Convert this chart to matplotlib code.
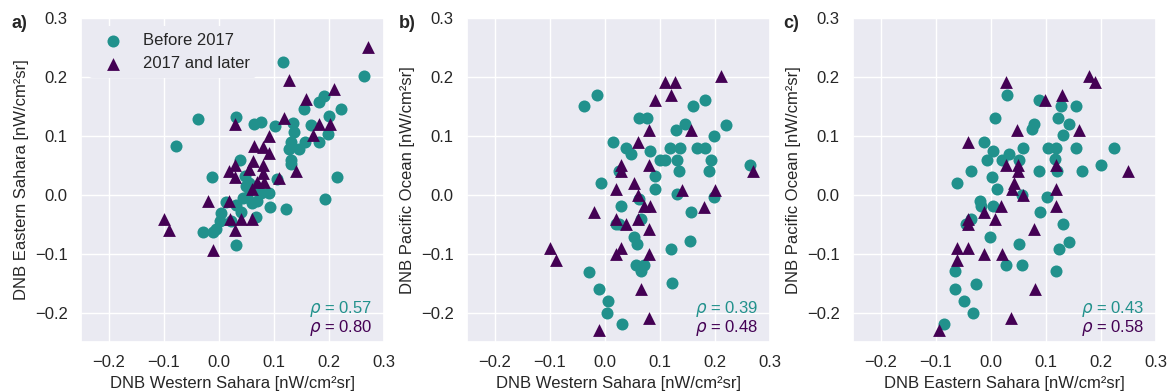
import numpy as np
import matplotlib
matplotlib.use("Agg")
import matplotlib.pyplot as plt
import seaborn as sns

# panel a: Western Sahara (x) vs Eastern Sahara (y)
a_before_x = [0.117, 0.264, -0.038, -0.077, 0.031, 0.064, 0.076, 0.102, 0.135, 0.136, 0.155, 0.182, 0.191,
              0.222, 0.200, 0.168, 0.198, 0.182, 0.157, 0.145, 0.132, 0.128, 0.132, 0.132, 0.214, 0.193,
              0.122, 0.094, 0.039, -0.013, 0.048, 0.070, 0.076, 0.091, 0.052, 0.061, 0.070, 0.014, 0.031,
              0.005, 0.003, -0.029, -0.011, -0.005, 0.032, 0.067, 0.040, 0.055, 0.106, 0.022, 0.045, 0.050]
a_before_y = [0.226, 0.201, 0.129, 0.082, 0.132, 0.120, 0.123, 0.117, 0.122, 0.106, 0.145, 0.157, 0.167,
              0.146, 0.133, 0.119, 0.103, 0.089, 0.089, 0.078, 0.089, 0.078, 0.059, 0.052, 0.030, -0.007,
              -0.025, -0.021, 0.059, 0.030, 0.031, 0.013, 0.003, 0.003, -0.004, -0.014, -0.011, -0.012, -0.017,
              -0.031, -0.044, -0.063, -0.063, -0.059, -0.085, -0.037, -0.030, 0.020, 0.027, -0.045, -0.005, 0.015]
a_after_x = [0.271, 0.127, 0.159, 0.210, 0.119, 0.030, 0.182, 0.202, 0.171, 0.091, 0.064, 0.081, 0.091,
             0.062, 0.030, 0.018, 0.030, 0.055, 0.081, 0.081, 0.070, 0.082, 0.061, 0.109, 0.141, -0.019,
             0.018, -0.100, -0.091, 0.020, 0.041, 0.061, 0.030, -0.010]
a_after_y = [0.250, 0.194, 0.163, 0.180, 0.131, 0.120, 0.120, 0.120, 0.101, 0.099, 0.082, 0.081, 0.071,
             0.058, 0.050, 0.040, 0.030, 0.044, 0.050, 0.037, 0.021, 0.021, 0.010, 0.028, 0.040, -0.011,
             -0.011, -0.041, -0.060, -0.041, -0.041, -0.041, -0.060, -0.094]

# panel b: Western Sahara (x) vs Pacific Ocean (y)
b_before_x = [-0.038, -0.014, 0.015, 0.039, 0.047, 0.062, 0.076, 0.082, 0.092, 0.092, 0.100, 0.110, 0.118,
              0.136, 0.131, 0.134, 0.129, 0.146, 0.160, 0.182, 0.221, 0.199, 0.167, 0.182, 0.193, 0.190,
              0.263, 0.131, 0.198, 0.156, 0.154, 0.120, 0.122, -0.006, 0.030, 0.025, 0.025, 0.062, 0.066,
              0.053, 0.059, 0.056, 0.071, 0.065, -0.028, -0.011, 0.005, 0.004, 0.031, 0.020]
b_before_y = [0.151, 0.169, 0.090, 0.080, 0.069, 0.130, 0.130, 0.074, 0.031, 0.010, 0.059, 0.059, 0.080,
              0.080, 0.059, 0.040, 0.110, 0.120, 0.150, 0.160, 0.119, 0.099, 0.080, 0.080, 0.059, 0.040,
              0.051, 0.001, -0.004, -0.030, -0.079, -0.093, -0.150, 0.020, -0.020, 0.040, -0.049, -0.007, -0.041,
              -0.071, -0.084, -0.120, -0.120, -0.129, -0.131, -0.160, -0.181, -0.201, -0.220, -0.050]
b_after_x = [0.110, 0.127, 0.120, 0.211, 0.091, 0.081, 0.157, 0.060, 0.081, 0.030, 0.030, 0.053, 0.021,
             0.060, 0.071, 0.082, -0.019, 0.021, 0.039, 0.060, 0.081, 0.030, 0.021, 0.081, -0.100, -0.089,
             0.065, 0.081, -0.010, 0.140, 0.201, 0.181, 0.270]
b_after_y = [0.191, 0.191, 0.169, 0.201, 0.161, 0.110, 0.110, 0.090, 0.051, 0.051, 0.040, 0.020, 0.009,
             0.000, -0.020, -0.020, -0.030, -0.041, -0.050, -0.041, -0.059, -0.090, -0.100, -0.100, -0.090, -0.110,
             -0.160, -0.210, -0.230, 0.008, 0.008, -0.021, 0.040]

# panel c: Eastern Sahara (x) vs Pacific Ocean (y)
c_before_x = [0.030, 0.078, 0.075, 0.087, 0.128, 0.155, 0.122, 0.143, 0.132, 0.155, 0.224, 0.200, 0.165,
              0.120, 0.087, 0.104, 0.119, 0.116, 0.007, -0.013, 0.004, -0.007, 0.021, 0.033, 0.051, 0.059,
              0.002, 0.012, -0.036, -0.062, 0.057, 0.102, -0.019, -0.018, 0.004, 0.089, -0.036, -0.044, -0.002,
              0.131, 0.143, 0.124, 0.051, 0.027, 0.057, 0.119, -0.064, -0.065, -0.027, -0.048, -0.032, -0.085]
c_before_y = [0.169, 0.120, 0.112, 0.160, 0.150, 0.150, 0.130, 0.120, 0.101, 0.080, 0.080, 0.051, 0.040,
              0.040, 0.040, 0.080, 0.080, 0.060, 0.130, 0.090, 0.074, 0.059, 0.059, 0.069, 0.059, 0.080,
              0.030, 0.010, 0.040, 0.020, 0.000, -0.004, -0.010, -0.020, -0.020, -0.030, -0.041, -0.050, -0.071,
              -0.050, -0.080, -0.093, -0.084, -0.120, -0.120, -0.129, -0.129, -0.160, -0.151, -0.181, -0.201, -0.220]
c_after_x = [0.028, 0.179, 0.190, 0.129, 0.098, 0.048, 0.161, -0.041, 0.028, 0.049, 0.049, 0.119, 0.250,
             0.043, 0.039, 0.059, 0.119, 0.119, 0.018, -0.012, 0.008, -0.041, -0.041, 0.078, -0.062, -0.041,
             -0.062, -0.012, 0.021, 0.080, 0.037, -0.094]
c_after_y = [0.191, 0.201, 0.191, 0.170, 0.160, 0.110, 0.110, 0.090, 0.051, 0.050, 0.040, 0.051, 0.040,
             0.020, 0.010, 0.000, 0.010, -0.020, -0.020, -0.030, -0.041, -0.041, -0.050, -0.059, -0.090, -0.090,
             -0.110, -0.100, -0.100, -0.160, -0.210, -0.230]

rho_before = ["0.57", "0.39", "0.43"]
rho_after = ["0.80", "0.48", "0.58"]
xlabels = ["DNB Western Sahara [nW/cm²sr]", "DNB Western Sahara [nW/cm²sr]", "DNB Eastern Sahara [nW/cm²sr]"]
ylabels = ["DNB Eastern Sahara [nW/cm²sr]", "DNB Pacific Ocean [nW/cm²sr]", "DNB Pacific Ocean [nW/cm²sr]"]
letters = ["a)", "b)", "c)"]

teal = "#21918c"
purple = "#440154"

sns.set_theme(style="darkgrid")
plt.rcParams['font.family'] = ['Liberation Sans', 'DejaVu Sans']

fig = plt.figure(figsize=(11.72, 3.92), dpi=100)
lefts = [0.0691, 0.3985, 0.7278]
axes = [fig.add_axes([l, 0.1276, 0.2585, 0.8265]) for l in lefts]

data = [(a_before_x, a_before_y, a_after_x, a_after_y),
        (b_before_x, b_before_y, b_after_x, b_after_y),
        (c_before_x, c_before_y, c_after_x, c_after_y)]

for i, ax in enumerate(axes):
    bx, by, tx, ty = data[i]
    ax.scatter(bx, by, s=75, marker='o', color=teal, linewidths=0, label="Before 2017", zorder=3)
    ax.scatter(tx, ty, s=85, marker='^', color=purple, linewidths=0, label="2017 and later", zorder=3)
    ax.set_xlim(-0.25, 0.3)
    ax.set_ylim(-0.25, 0.3)
    ax.set_xticks([-0.2, -0.1, 0.0, 0.1, 0.2, 0.3])
    ax.set_yticks([-0.2, -0.1, 0.0, 0.1, 0.2, 0.3])
    ax.tick_params(labelsize=12)
    ax.set_xlabel(xlabels[i], fontsize=12)
    ax.set_ylabel(ylabels[i], fontsize=12)
    ax.text(0.96, 0.09, r"$\rho$ = " + rho_before[i], color=teal, fontsize=12,
            ha='right', va='baseline', transform=ax.transAxes)
    ax.text(0.96, 0.031, r"$\rho$ = " + rho_after[i], color=purple, fontsize=12,
            ha='right', va='baseline', transform=ax.transAxes)

leg = axes[0].legend(loc='upper left', fontsize=12, frameon=True, facecolor='#eaeaf2',
                     edgecolor='none', framealpha=1, labelspacing=0.5)

letter_x = [0.010, 0.340, 0.668]
for i in range(3):
    fig.text(letter_x[i], 0.929, letters[i], fontsize=13, fontweight='bold', va='baseline')

fig.savefig("out.png", dpi=100)
